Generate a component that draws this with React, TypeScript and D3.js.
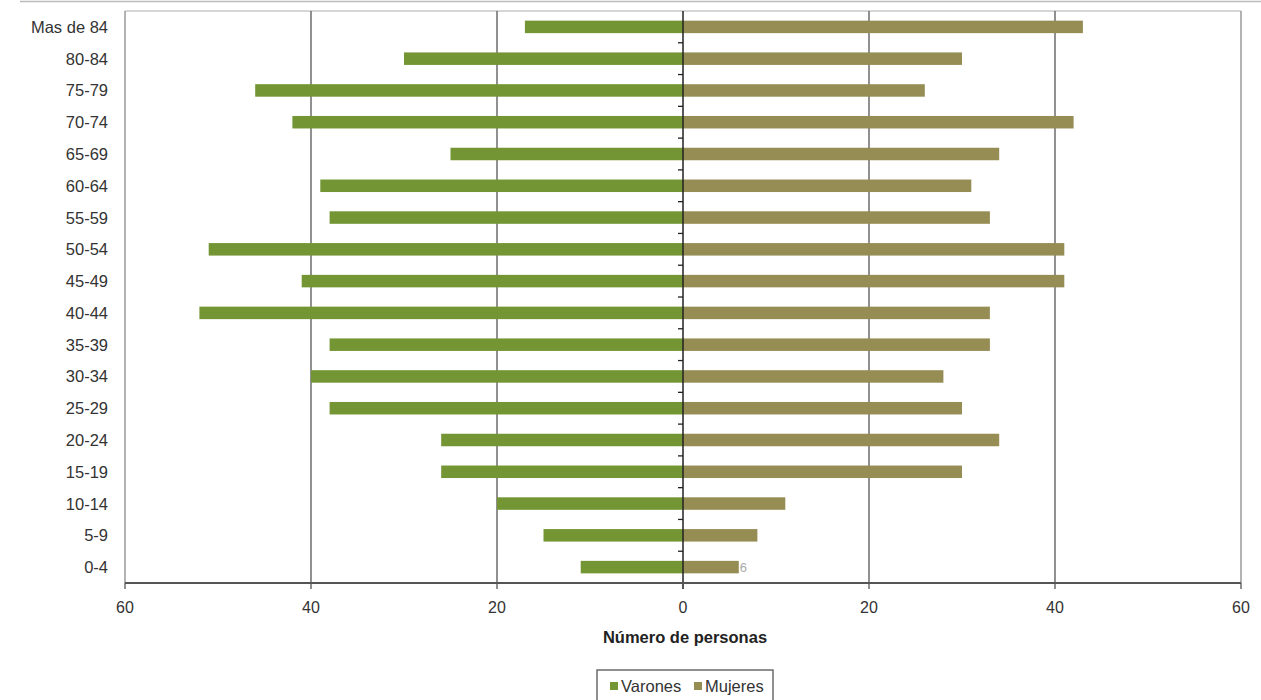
import React from "react";
import * as d3 from "d3";

const categories = ["Mas de 84", "80-84", "75-79", "70-74", "65-69", "60-64", "55-59", "50-54", "45-49", "40-44", "35-39", "30-34", "25-29", "20-24", "15-19", "10-14", "5-9", "0-4"];
const varones = [17, 30, 46, 42, 25, 39, 38, 51, 41, 52, 38, 40, 38, 26, 26, 20, 15, 11];
const mujeres = [43, 30, 26, 42, 34, 31, 33, 41, 41, 33, 33, 28, 30, 34, 30, 11, 8, 6];
const xTicks = [-60, -40, -20, 0, 20, 40, 60];
const seriesNames = ["Varones", "Mujeres"];
const colors = ["#739534", "#968d55"];

export default function App() {
  const W = 1261, H = 700;
  const left = 125, right = 1241, top = 11, bottom = 583;
  const x = d3.scaleLinear().domain([-60, 60]).range([left, right]);
  const y = d3.scaleBand<string>().domain(categories).range([top, bottom]).paddingInner(0).paddingOuter(0);
  const bw = y.bandwidth();
  const barH = 12.5;
  const font = "'Liberation Sans', Arial, sans-serif";
  const x0 = x(0);
  return (
    <svg width={W} height={H} style={{ position: "absolute", left: 0, top: 0, background: "#fff" }} fontFamily={font}>
      <line x1={20} x2={W} y1={1.5} y2={1.5} stroke="#bbb" strokeWidth={1.5} />
      {/* plot frame */}
      <line x1={left} x2={right} y1={top} y2={top} stroke="#c8c8c8" strokeWidth={1.5} />
      <line x1={left} x2={left} y1={top} y2={bottom} stroke="#9a9a9a" strokeWidth={1.5} />
      <line x1={right} x2={right} y1={top} y2={bottom} stroke="#9a9a9a" strokeWidth={1.5} />
      {/* gridlines */}
      {xTicks.filter(t => t !== 0 && Math.abs(t) !== 60).map(t => (
        <line key={"g" + t} x1={x(t)} x2={x(t)} y1={top} y2={bottom} stroke="#555" strokeWidth={1.3} />
      ))}
      {/* bars */}
      {categories.map((c, i) => {
        const cy = (y(c) as number) + bw / 2;
        return (
          <g key={c}>
            <rect x={x(-varones[i])} width={x0 - x(-varones[i])} y={cy - barH / 2} height={barH} fill={colors[0]} />
            <rect x={x0} width={x(mujeres[i]) - x0} y={cy - barH / 2} height={barH} fill={colors[1]} />
          </g>
        );
      })}
      <text x={x(mujeres[17]) + 1} y={(y("0-4") as number) + bw / 2 + 5} fontSize={13} fill="#aaa">{mujeres[17]}</text>
      {/* center axis */}
      <line x1={x0} x2={x0} y1={top} y2={bottom + 6} stroke="#222" strokeWidth={1.5} />
      {categories.map((c, i) => i > 0 ? (
        <line key={"t" + c} x1={x0 - 5} x2={x0} y1={y(c) as number} y2={y(c) as number} stroke="#222" strokeWidth={1.3} />
      ) : null)}
      {/* bottom axis */}
      <line x1={left} x2={right} y1={bottom} y2={bottom} stroke="#555" strokeWidth={1.8} />
      {xTicks.map(t => (
        <g key={"x" + t}>
          <line x1={x(t)} x2={x(t)} y1={bottom} y2={bottom + 6} stroke="#555" strokeWidth={1.3} />
          <text x={x(t)} y={bottom + 30} textAnchor="middle" fontSize={16} fill="#333">{Math.abs(t)}</text>
        </g>
      ))}
      {/* category labels */}
      {categories.map(c => (
        <text key={"l" + c} x={108} y={(y(c) as number) + bw / 2 + 6} textAnchor="end" fontSize={16.5} fill="#333">{c}</text>
      ))}
      <text x={x0 + 2} y={643} textAnchor="middle" fontSize={16.5} fontWeight="bold" fill="#222">Número de personas</text>
      {/* legend */}
      <rect x={597} y={670} width={176} height={40} fill="#fff" stroke="#555" strokeWidth={1.3} />
      {seriesNames.map((s, i) => {
        const lx = [610, 694][i];
        return (
          <g key={s}>
            <rect x={lx} y={682} width={8} height={8} fill={colors[i]} />
            <text x={lx + 11} y={692} fontSize={16.5} fill="#333">{s}</text>
          </g>
        );
      })}
    </svg>
  );
}
